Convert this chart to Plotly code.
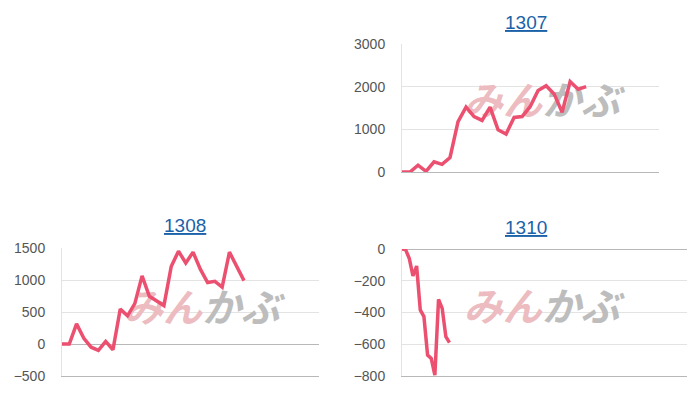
import plotly.graph_objects as go

W, H = 700, 400

titles = ["1307", "1308", "1310"]

v1307 = [0, 0, 160, 15, 240, 180, 340, 1180, 1520, 1300, 1210, 1520, 990, 890,
         1280, 1300, 1530, 1910, 2020, 1830, 1400, 2120, 1940, 2000]
v1308 = [0, 0, 315, 90, -50, -100, 40, -90, 545, 440, 630, 1065, 745, 680,
         600, 1210, 1450, 1265, 1435, 1170, 960, 980, 890, 1435, 1210, 990]
v1310 = [0, -5, -60, -170, -107, -384, -426, -668, -689, -794, -317, -374, -552, -590]

series = [v1307, v1308, v1310]
y_ticks = [[0, 1000, 2000, 3000], [-500, 0, 500, 1000, 1500], [-800, -600, -400, -200, 0]]
y_ranges = [[0, 3000], [-500, 1500], [-800, 0]]
x_slots = [32.1, 35.3, 78.0]

# plot area boxes in pixels: (left, right, top, bottom)
boxes = [(402, 659, 44, 172), (62, 319, 248, 376), (402, 687, 249, 376)]
title_cx = [526, 185, 526]
wm_frac = [(0.545, 0.52), (0.545, 0.50), (0.49, 0.51)]

LINE = "#ec5070"
wm_html = ("<b><i><span style='color:#ecbcc0'>みん</span>"
           "<span style='color:#bdbdbd'>かぶ</span></i></b>")

fig = go.Figure()
layout = dict(width=W, height=H, margin=dict(l=0, r=0, t=0, b=0, autoexpand=False),
              paper_bgcolor="white", plot_bgcolor="white", showlegend=False,
              font=dict(family="Liberation Sans, Arial, sans-serif", size=14, color="#555"))
annotations = []

for i, (vals, box) in enumerate(zip(series, boxes)):
    n = i + 1
    xa = "x" if n == 1 else f"x{n}"
    ya = "y" if n == 1 else f"y{n}"
    l, r, t, b = box
    xr = [0, x_slots[i]]
    yr = y_ranges[i]
    fx, fy = wm_frac[i]
    # watermark (drawn under the line)
    fig.add_trace(go.Scatter(
        x=[xr[0] + fx * (xr[1] - xr[0])], y=[yr[0] + fy * (yr[1] - yr[0])],
        mode="text", text=[wm_html],
        textfont=dict(family="Noto Sans CJK JP", size=39),
        hoverinfo="skip", xaxis=xa, yaxis=ya, cliponaxis=False))
    fig.add_trace(go.Scatter(
        x=list(range(len(vals))), y=vals, mode="lines",
        line=dict(color=LINE, width=3.5), xaxis=xa, yaxis=ya))
    xkey = "xaxis" if n == 1 else f"xaxis{n}"
    ykey = "yaxis" if n == 1 else f"yaxis{n}"
    layout[xkey] = dict(domain=[l / W, r / W], range=xr, anchor=ya,
                        showgrid=False, zeroline=False, showticklabels=False,
                        showline=True, linecolor="#b8b8b8", linewidth=1, ticks="",
                        fixedrange=True, automargin=False)
    layout[ykey] = dict(domain=[1 - b / H, 1 - t / H], range=yr, anchor=xa,
                        tickvals=y_ticks[i], showgrid=True, gridcolor="#e3e3e3",
                        zeroline=True, zerolinecolor="#b8b8b8", zerolinewidth=1,
                        showline=True, linecolor="#e3e3e3", linewidth=1,
                        ticks="", ticklabelstandoff=13, fixedrange=True,
                        automargin=False,
                        tickfont=dict(size=14, color="#555"))
    annotations.append(dict(
        text=f"<u>{titles[i]}</u>", xref="paper", yref="paper",
        x=title_cx[i] / W,
        y=1 - (t - 22) / H, xanchor="center", yanchor="middle",
        showarrow=False, font=dict(size=19, color="#1b62a8",
                                   family="Liberation Sans, Arial, sans-serif")))

layout["annotations"] = annotations
fig.update_layout(**layout)
fig.write_html("out.html", config={"displayModeBar": False},
               post_script="document.body.style.margin='0';"
                           "document.body.style.overflow='hidden';")
